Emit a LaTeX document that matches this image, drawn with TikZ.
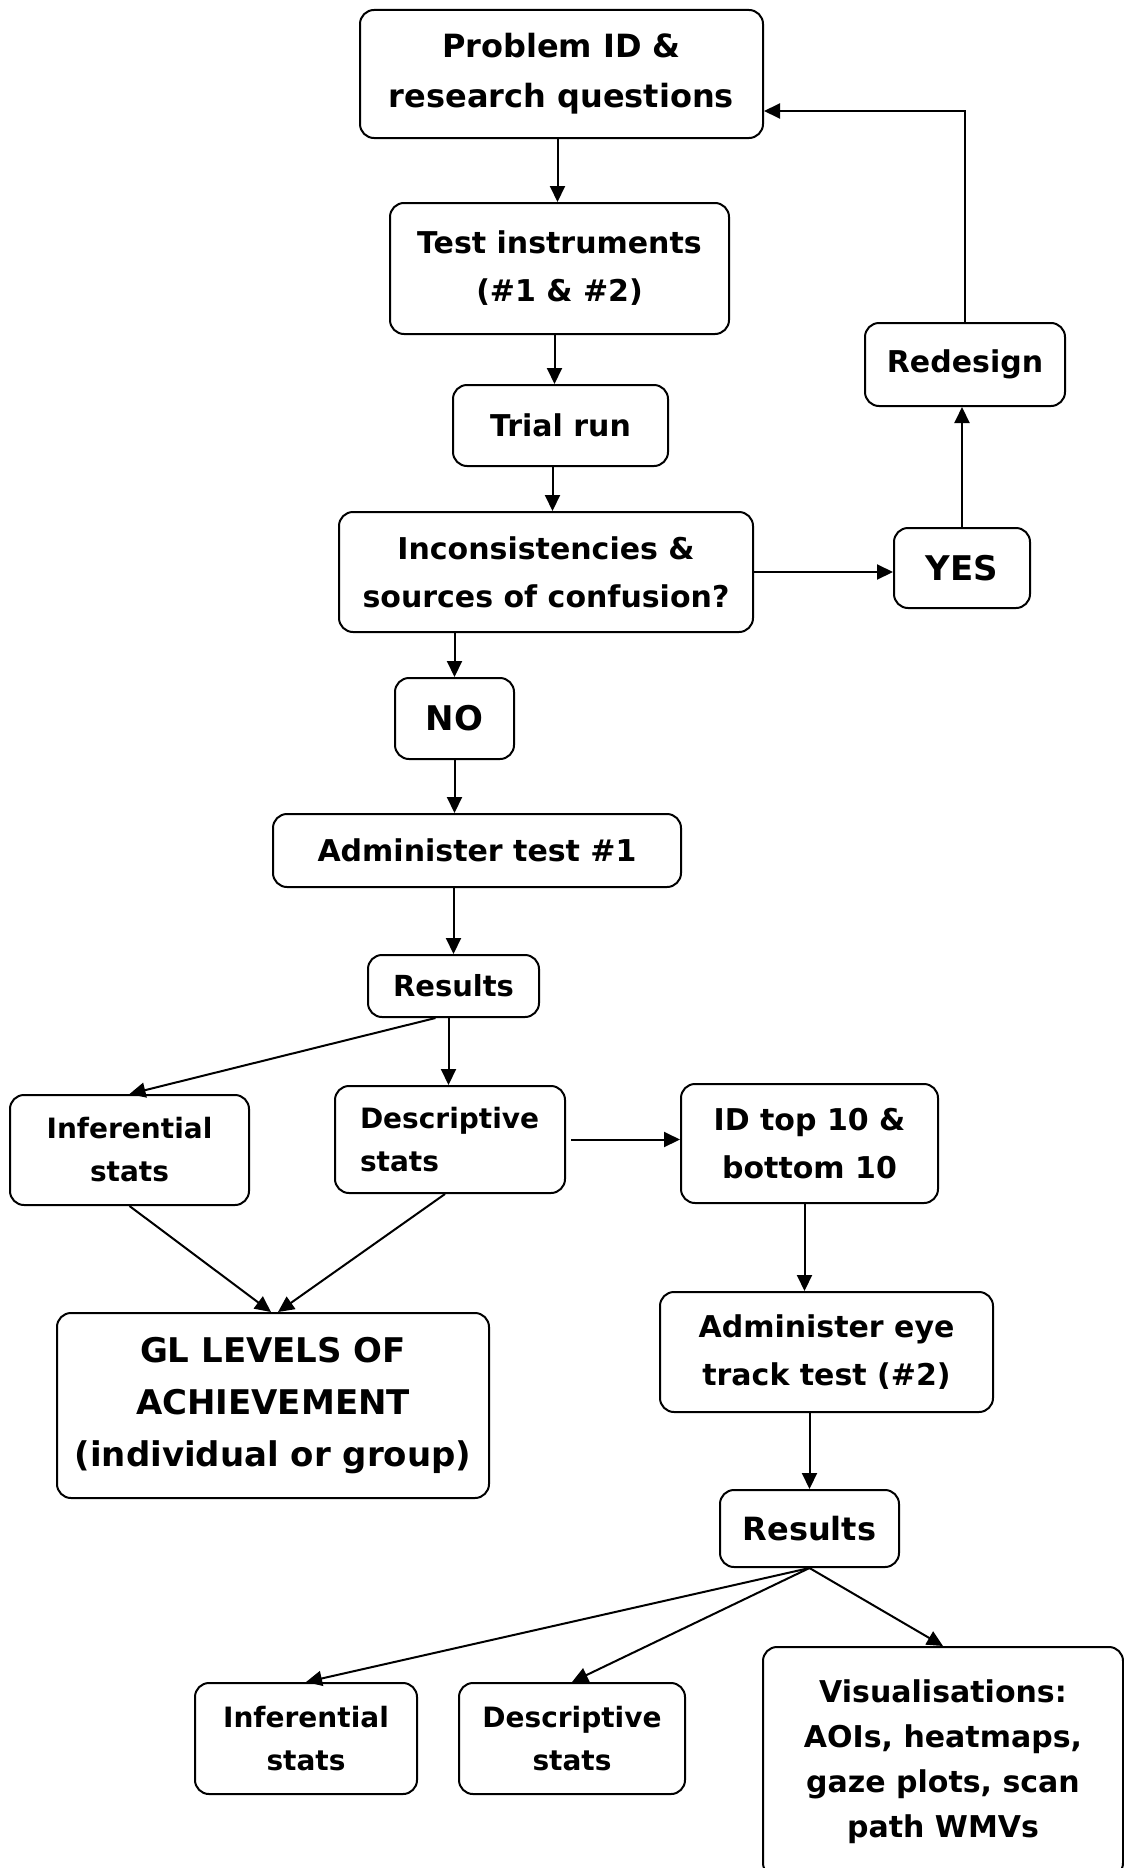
\documentclass[tikz,border=0pt]{standalone}
\usepackage{fontspec}
\setmainfont{DejaVu Sans}
\usepackage{tikz}
\usetikzlibrary{arrows.meta, positioning}

\newcommand{\boxfont}{\fontsize{30}{48}\selectfont\bfseries}
\newcommand{\bigfont}{\fontsize{34}{52}\selectfont\bfseries}
\newcommand{\statfont}{\fontsize{28}{43}\selectfont\bfseries}

\tikzset{
  box/.style={draw, line width=2pt, rounded corners=14pt, align=center,
    inner sep=0pt, font=\boxfont},
  bigbox/.style={box, font=\bigfont},
  statbox/.style={box, font=\statfont},
  arr/.style={line width=2pt, -{Triangle[length=16pt,width=15pt]}},
}

\begin{document}
\begin{tikzpicture}[x=1pt, y=-1pt]
    \useasboundingbox (0,0) rectangle (1124,1868);

    % first loop
    \node[box, font=\fontsize{32}{50}\selectfont\bfseries,
        minimum width=403, minimum height=128] (prob) at (561.5,74)
        {Problem ID \&\\research questions};
    \node[box, minimum width=339, minimum height=131] (instr) at (559.5,268.5)
        {Test instruments\\(\#1 \& \#2)};
    \node[box, minimum width=215, minimum height=81] (trial) at (560.5,425.5)
        {Trial run};
    \node[box, minimum width=414, minimum height=120] (incons) at (546,572)
        {Inconsistencies \&\\sources of confusion?};
    \node[bigbox, minimum width=136, minimum height=80] (yes) at (962,568) {YES};
    \node[box, minimum width=200, minimum height=83] (redesign) at (965,364.5)
        {Redesign};
    \node[bigbox, minimum width=119, minimum height=81] (no) at (454.5,718.5) {NO};

    % test 1
    \node[box, minimum width=408, minimum height=73] (admin1) at (477,850.5)
        {Administer test \#1};
    \node[box, font=\fontsize{29}{44}\selectfont\bfseries,
        minimum width=171, minimum height=62] (res1) at (453.5,986) {Results};
    \node[statbox, minimum width=239, minimum height=110] (inf1) at (129.5,1150)
        {Inferential\\stats};
    \node[statbox, align=left, text width=180, inner xsep=25pt,
        minimum height=107] (desc1) at (450,1139.5)
        {Descriptive\\stats};
    \node[bigbox, minimum width=432, minimum height=185] (gl) at (273,1405.5)
        {GL LEVELS OF\\ACHIEVEMENT\\(individual or group)};

    % eye tracking
    \node[box, minimum width=257, minimum height=119] (idtop) at (809.5,1143.5)
        {ID top 10 \&\\bottom 10};
    \node[box, minimum width=333, minimum height=120] (eye) at (826.5,1352)
        {Administer eye\\track test (\#2)};
    \node[bigbox, font=\fontsize{32}{48}\selectfont\bfseries,
        minimum width=179, minimum height=77] (res2) at (809.5,1528.5) {Results};
    \node[statbox, minimum width=222, minimum height=111] (inf2) at (306,1738.5)
        {Inferential\\stats};
    \node[statbox, minimum width=226, minimum height=111] (desc2) at (572,1738.5)
        {Descriptive\\stats};
    \node[box, font=\fontsize{30}{45}\selectfont\bfseries,
        minimum width=360, minimum height=230] (vis) at (943,1762)
        {Visualisations:\\AOIs, heatmaps,\\gaze plots, scan\\path WMVs};

    % connectors
    \draw[arr] ([xshift=-4pt]prob.south) -- ([xshift=-4pt]prob.south |- instr.north);
    \draw[arr] ([xshift=-5pt]instr.south) -- ([xshift=-5pt]instr.south |- trial.north);
    \draw[arr] ([xshift=-8pt]trial.south) -- ([xshift=-8pt]trial.south |- incons.north);
    \draw[arr] (incons.east) -- (incons.east -| yes.west);
    \draw[arr] (yes.north) -- (yes.north |- redesign.south);
    \draw[arr] (redesign.north) |- ([yshift=-37pt]prob.east);
    \draw[arr] (no.north |- incons.south) -- (no.north);
    \draw[arr] (no.south) -- (no.south |- admin1.north);
    \draw[arr] (res1.north |- admin1.south) -- (res1.north);
    \draw[arr] ([xshift=-18pt]res1.south) -- (inf1.north);
    \draw[arr] ([xshift=-5pt]res1.south) -- ([xshift=-5pt]res1.south |- desc1.north);
    \draw[arr] ([xshift=5pt]desc1.east) -- (desc1.east -| idtop.west);
    \draw[arr] (inf1.south) -- ([xshift=-2pt]gl.north);
    \draw[arr] ([xshift=-5pt]desc1.south) -- ([xshift=5pt]gl.north);
    \draw[arr] ([xshift=-5pt]idtop.south) -- ([xshift=-5pt]idtop.south |- eye.north);
    \draw[arr] (res2.north |- eye.south) -- (res2.north);
    \draw[arr] (res2.south) -- (inf2.north);
    \draw[arr] (res2.south) -- (desc2.north);
    \draw[arr] (res2.south) -- (vis.north);
\end{tikzpicture}
\end{document}
